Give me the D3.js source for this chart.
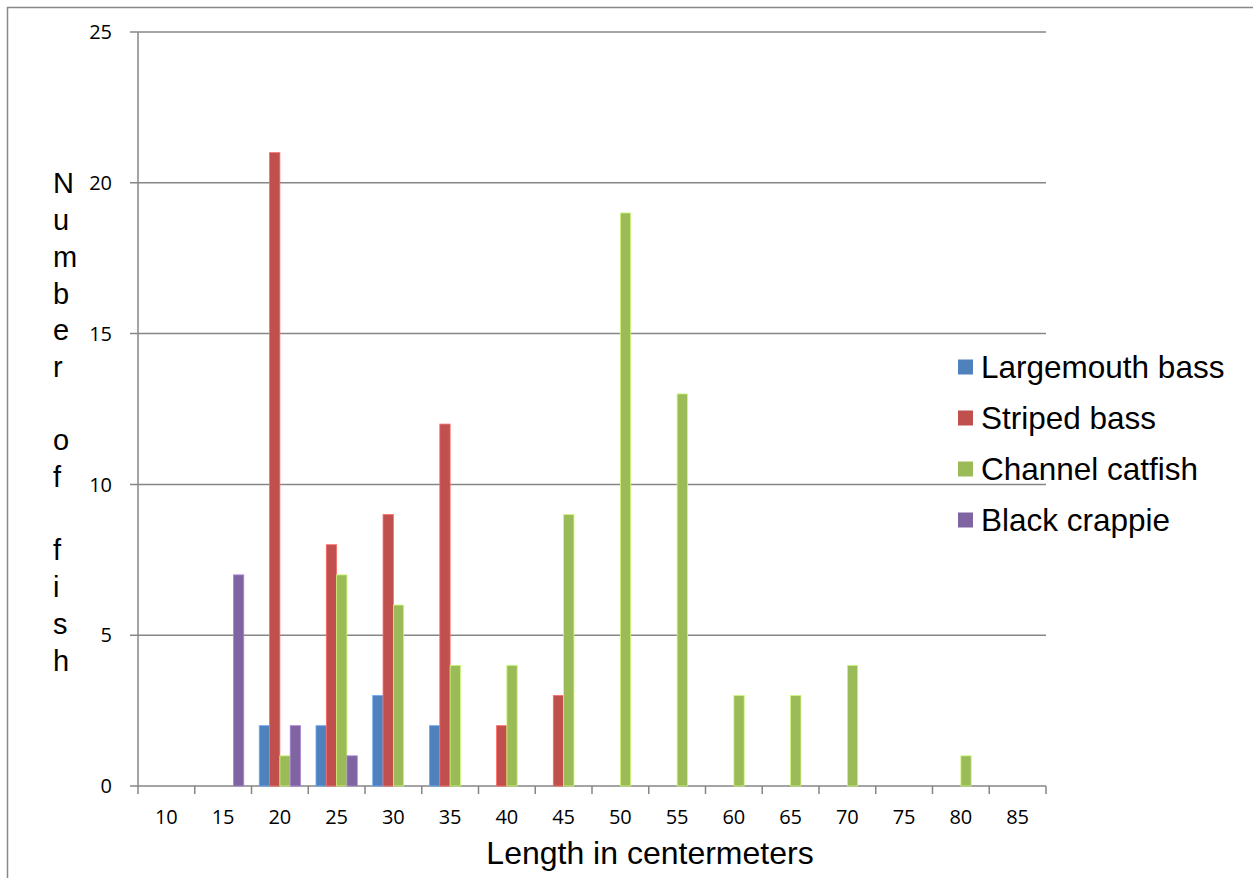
<!DOCTYPE html>
<html><head><meta charset="utf-8">
<script src="https://cdn.jsdelivr.net/npm/d3@7"></script>
<style>body{margin:0;background:#fff}svg{display:block}</style>
</head><body>
<script>
const categories = ["10","15","20","25","30","35","40","45","50","55","60","65","70","75","80","85"];
const seriesNames = ["Largemouth bass","Striped bass","Channel catfish","Black crappie"];
const largemouth = [0,0,2,2,3,2,0,0,0,0,0,0,0,0,0,0];
const striped    = [0,0,21,8,9,12,2,3,0,0,0,0,0,0,0,0];
const catfish    = [0,0,1,7,6,4,4,9,19,13,3,3,4,0,1,0];
const crappie    = [0,7,2,1,0,0,0,0,0,0,0,0,0,0,0,0];
const colors = ["#4F81BD","#C0504D","#9BBB59","#8064A2"];
const yTicks = [0,5,10,15,20,25];
const yTitle = "Number of fish";
const xTitle = "Length in centermeters";

const W = 1253, H = 878;
const L = 138, R = 1046, T = 32, B = 786;
const svg = d3.select("body").append("svg").attr("width", W).attr("height", H);

svg.append("rect").attr("x",7.5).attr("y",7.5).attr("width",W+20).attr("height",H+20)
  .attr("fill","none").attr("stroke","#888").attr("stroke-width",1.5);

const x = d3.scaleBand().domain(categories).range([L,R]).paddingInner(0).paddingOuter(0);
// group of 4 bars occupies 4/5.5 of each band (gap width 150%), centered
const groupW = x.bandwidth()*4/5.5;
const xi = d3.scaleBand().domain(d3.range(4)).range([(x.bandwidth()-groupW)/2,(x.bandwidth()+groupW)/2]);
const y = d3.scaleLinear().domain([0,25]).range([B,T]);

// gridlines
svg.append("g").selectAll("line").data(yTicks).join("line")
  .attr("x1",130).attr("x2",R).attr("y1",d=>y(d)).attr("y2",d=>y(d))
  .attr("stroke","#868686").attr("stroke-width",1.5);

// y axis line
svg.append("line").attr("x1",L).attr("x2",L).attr("y1",T).attr("y2",B+8)
  .attr("stroke","#868686").attr("stroke-width",1.5);

// x ticks at boundaries
const bounds = categories.map(c=>x(c)).concat([R]);
svg.append("g").selectAll("line").data(bounds.slice(1)).join("line")
  .attr("x1",d=>d).attr("x2",d=>d).attr("y1",B).attr("y2",B+8)
  .attr("stroke","#868686").attr("stroke-width",1.5);

// bars
const allSeries = [largemouth, striped, catfish, crappie];
allSeries.forEach((vals, si) => {
  svg.append("g").selectAll("rect").data(vals.map((v,i)=>({v,c:categories[i]})).filter(d=>d.v>0))
    .join("rect")
    .attr("x", d => x(d.c) + xi(si))
    .attr("width", xi.bandwidth())
    .attr("y", d => y(d.v))
    .attr("height", d => B - y(d.v))
    .attr("fill", colors[si])
    .attr("stroke", d3.color(colors[si]).brighter(0.8))
    .attr("stroke-width", 0.8);
});

// y tick labels
svg.append("g").selectAll("text").data(yTicks).join("text")
  .attr("x",112).attr("y",d=>y(d)).attr("dy","0.36em").attr("text-anchor","end")
  .attr("font-family","'Open Sans', sans-serif").attr("font-size",20).attr("fill","#000")
  .text(d=>d);

// x tick labels
svg.append("g").selectAll("text").data(categories).join("text")
  .attr("x",d=>x(d)+x.bandwidth()/2).attr("y",824).attr("text-anchor","middle")
  .attr("font-family","'Open Sans', sans-serif").attr("font-size",20).attr("fill","#000")
  .text(d=>d);

// x title
svg.append("text").attr("x",650).attr("y",864).attr("text-anchor","middle")
  .attr("font-family","'Liberation Sans', Arial, sans-serif").attr("font-size",32).attr("fill","#000")
  .text(xTitle);

// y title stacked letters
const letters = yTitle.split("");
svg.append("g").selectAll("text").data(letters).join("text")
  .attr("x",53).attr("y",(d,i)=>183 + i*36.7).attr("dy","0.36em")
  .attr("font-family","'Liberation Sans', Arial, sans-serif").attr("font-size",29).attr("fill","#000")
  .text(d=>d);

// legend
const lg = svg.append("g");
seriesNames.forEach((n,i)=>{
  const cy = 367 + i*51;
  lg.append("rect").attr("x",958).attr("y",cy-7.5).attr("width",15).attr("height",15).attr("fill",colors[i]);
  lg.append("text").attr("x",981).attr("y",cy).attr("dy","0.36em")
    .attr("font-family","'Liberation Sans', Arial, sans-serif").attr("font-size",31.5).attr("fill","#000")
    .text(n);
});
</script>
</body></html>
